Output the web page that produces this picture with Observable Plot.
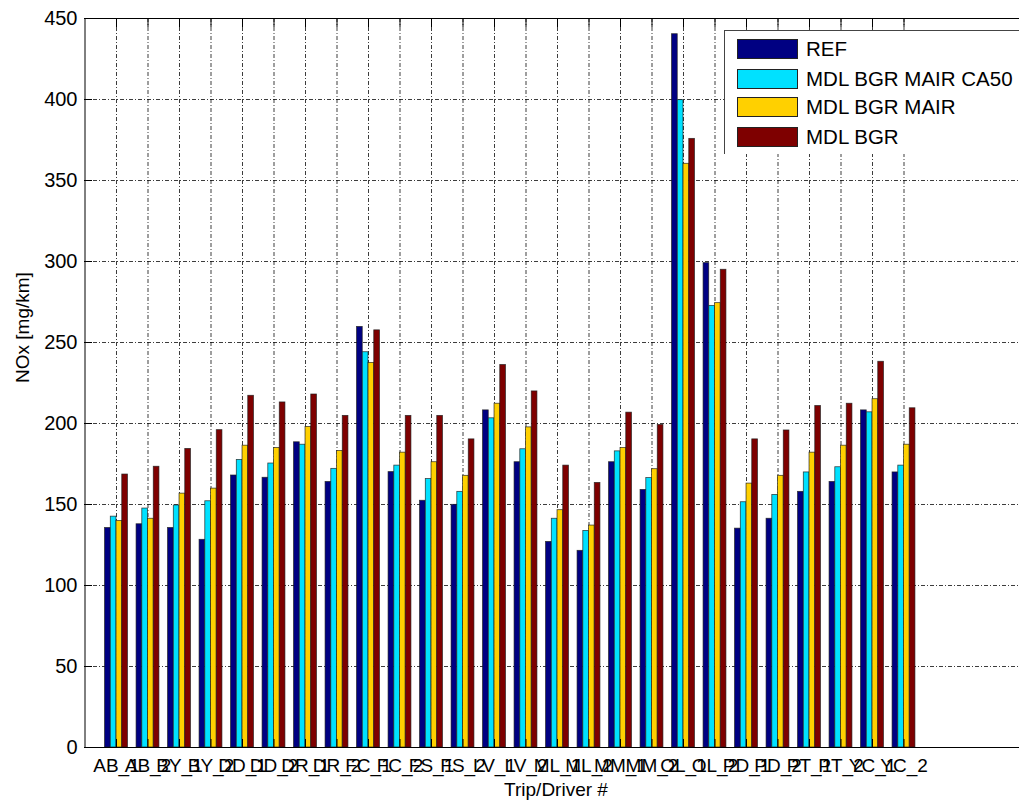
<!DOCTYPE html>
<html>
<head>
<meta charset="utf-8">
<script src="https://cdn.jsdelivr.net/npm/d3@7"></script>
<script src="https://cdn.jsdelivr.net/npm/@observablehq/plot@0.6"></script>
<style>
  html, body { margin: 0; padding: 0; background: #fff; overflow: hidden; }
  #wrap { position: relative; width: 1019px; height: 801px; font-family: "Liberation Sans", Arial, sans-serif; }
  #legend { position: absolute; left: 724px; top: 30px; width: 310px; height: 124px; background: #fff;
            border-left: 1.5px solid #444; border-top: 1.5px solid #444; box-sizing: border-box; }
  .row { position: absolute; left: 12px; height: 22px; display: flex; align-items: center; }
  .sw { width: 61px; height: 20px; border: 1px solid #222; box-sizing: border-box; margin-right: 8px; }
  .lb { font-size: 20.5px; color: #000; white-space: nowrap; }
</style>
</head>
<body>
<div id="wrap"><div id="legend"></div></div>
<script>
const categories = ["AB_1","AB_2","BY_1","BY_2","DD_1","DD_2","DR_1","DR_2","FC_1","FC_2","FS_1","FS_2","LV_1","LV_2","ML_1","ML_2","MM_1","MM_2","OL_1","OL_2","PD_1","PD_2","PT_1","PT_2","YC_1","YC_2"];
const seriesNames = ["REF", "MDL BGR MAIR CA50", "MDL BGR MAIR", "MDL BGR"];
const seriesColors = ["#000082", "#00E1FF", "#FFD000", "#7E0000"];
const ref  = [135.5,137.8,135.5,128.2,167.9,166.5,188.4,163.9,259.6,170.0,152.3,149.8,208.1,176.1,126.9,121.4,176.1,159.0,440.3,299.0,135.1,141.2,157.8,163.9,208.1,169.8];
const ca50 = [142.5,147.5,149.4,152.0,177.5,175.3,186.9,172.0,244.0,174.0,165.7,157.8,203.2,184.1,141.2,133.7,182.8,166.3,399.6,272.6,151.4,155.9,169.8,173.0,206.9,174.0];
const mair = [139.8,141.2,156.7,159.8,186.3,184.9,197.9,183.0,237.4,182.0,176.1,167.7,212.2,197.6,146.5,137.0,184.9,171.8,360.3,274.3,162.9,167.7,182.0,186.3,215.0,186.9];
const bgr  = [168.5,173.3,184.3,195.9,217.1,213.0,217.9,204.7,257.5,204.7,204.7,190.2,236.1,219.8,174.0,163.3,206.7,199.1,375.7,294.9,190.2,195.7,210.8,212.2,238.1,209.4];
const yTicks = [0,50,100,150,200,250,300,350,400,450];

const seriesValues = [ref, ca50, mair, bgr];
const step = 0.182, half = 0.09;
const rows = [];
categories.forEach((c, i) => {
  seriesValues.forEach((vals, s) => {
    const center = (i + 1) + (s - 1.5) * step;
    rows.push({cat: c, series: seriesNames[s], x1: center - half, x2: center + half, value: vals[i]});
  });
});
const xTicks = categories.map((c, i) => i + 1);

const grid = {stroke: "#000", strokeOpacity: 0.85, strokeWidth: 0.9, strokeDasharray: "4,2,1,2"};

const chart = Plot.plot({
  width: 1019,
  height: 801,
  marginLeft: 84,
  marginRight: 0,
  marginTop: 18,
  marginBottom: 54,
  style: {fontFamily: "'Liberation Sans', Arial, sans-serif", fontSize: "19px", color: "#000", background: "#fff"},
  x: {domain: [0, 30], range: [84.5, 1029.5], axis: null},
  y: {domain: [0, 450], axis: null},
  color: {domain: seriesNames, range: seriesColors},
  marks: [
    Plot.gridY(yTicks, grid),
    Plot.gridX(xTicks, grid),
    Plot.rect(rows, {x1: "x1", x2: "x2", y1: d => 0, y2: "value", fill: "series", stroke: "#1a1a1a", strokeWidth: 0.8, strokeOpacity: 0.8}),
    Plot.axisY({ticks: yTicks, tickSize: -8, tickPadding: 15, fontSize: 20, tickFormat: d => String(d), label: null}),
    Plot.axisX({ticks: xTicks, tickSize: -8, tickPadding: 19, tickFormat: d => categories[d - 1], label: null}),
    Plot.axisX({anchor: "top", ticks: xTicks, tickSize: -8, tickFormat: () => "", label: null}),
    Plot.ruleY([0, 450], {stroke: "#000", strokeWidth: 1}),
    Plot.ruleX([0], {stroke: "#000", strokeWidth: 1}),
    Plot.text(["Trip/Driver #"], {frameAnchor: "bottom", dx: 4, dy: 48, fontSize: 19, fill: "#000"}),
    Plot.text(["NOx [mg/km]"], {frameAnchor: "left", rotate: -90, dx: -62, fontSize: 19, fill: "#000"})
  ]
});
const wrap = document.getElementById("wrap");
wrap.insertBefore(chart, wrap.firstChild);

const legend = document.getElementById("legend");
const rowTops = [7, 37, 65, 95];
seriesNames.forEach((n, i) => {
  const r = document.createElement("div");
  r.className = "row";
  r.style.top = rowTops[i] + "px";
  r.innerHTML = `<div class="sw" style="background:${seriesColors[i]}"></div><div class="lb">${n}</div>`;
  legend.appendChild(r);
});
</script>
</body>
</html>
